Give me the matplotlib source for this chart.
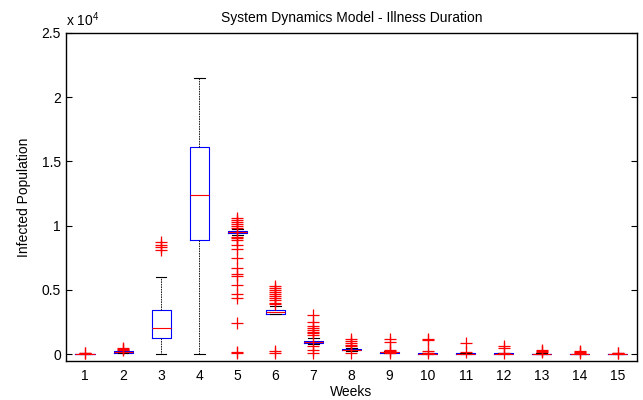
import matplotlib
matplotlib.use("Agg")
import matplotlib.pyplot as plt
from matplotlib.ticker import FuncFormatter

plt.rcParams["font.family"] = ["Liberation Sans", "DejaVu Sans"]
plt.rcParams["mathtext.fontset"] = "custom"
plt.rcParams["mathtext.rm"] = "Liberation Sans"

weeks = list(range(1, 16))
q1 = [0, 100, 1270, 8850, 9400, 3150, 850, 300, 80, 10, 10, 10, 10, 10, 5]
med = [10, 150, 2000, 12350, 9480, 3300, 950, 350, 120, 30, 20, 20, 20, 20, 15]
q3 = [20, 200, 3450, 16100, 9560, 3450, 1050, 420, 160, 50, 40, 40, 30, 30, 25]
whislo = [0, 50, 0, 0, 9250, 3100, 750, 200, 50, 0, 0, 0, 0, 0, 0]
whishi = [40, 300, 6000, 21500, 9700, 3700, 1250, 500, 200, 80, 60, 60, 60, 60, 50]
outliers = [
    [100, 60],
    [450, 400, 350],
    [8700, 8500, 8300, 8100],
    [],
    [10600, 10450, 10300, 10150, 9950, 9850, 9100, 9000, 8850, 8500, 8200,
     7500, 6700, 6200, 6050, 5400, 4700, 4400, 2400, 150, 50],
    [5300, 5150, 5000, 4850, 4700, 4550, 4400, 4200, 4000, 3900, 250, 100],
    [3050, 2500, 2200, 2050, 1900, 1750, 1600, 1450, 600, 350, 50],
    [1200, 1000, 850, 700, 600, 100],
    [1200, 950, 300, 250, 50],
    [1200, 1100, 200, 100],
    [850, 150],
    [600, 450, 100],
    [350, 250, 150],
    [250, 150, 100],
    [100, 50],
]

stats = []
for i in range(len(weeks)):
    stats.append({
        "med": med[i], "q1": q1[i], "q3": q3[i],
        "whislo": whislo[i], "whishi": whishi[i],
        "fliers": outliers[i], "label": str(weeks[i]),
    })

fig = plt.figure(figsize=(6.43, 4.0), dpi=100)
ax = fig.add_axes([0.1026, 0.0975, 0.888, 0.82])

ax.bxp(
    stats, positions=weeks, widths=0.5, capwidths=0.28,
    boxprops={"color": "blue", "linewidth": 0.8},
    medianprops={"color": "red", "linewidth": 0.8},
    whiskerprops={"color": "black", "linewidth": 0.6, "linestyle": (0, (2, 1))},
    capprops={"color": "black", "linewidth": 0.8},
    flierprops={"marker": "+", "markeredgecolor": "red", "markersize": 8,
                "markeredgewidth": 0.9, "linestyle": "none"},
)

ax.set_xlim(0.5, 15.5)
ax.set_ylim(-545, 25000)
ax.set_yticks([0, 5000, 10000, 15000, 20000, 25000])
ax.yaxis.set_major_formatter(FuncFormatter(lambda v, p: "%g" % (v / 1e4)))
ax.tick_params(axis="y", direction="in", length=4, right=True, labelsize=10, width=0.8)
ax.tick_params(axis="x", length=0, labelsize=10, pad=6)
for s in ax.spines.values():
    s.set_linewidth(1.0)

ax.text(0.0, 1.012, r"x 10$^{4}$", transform=ax.transAxes, fontsize=10,
        ha="left", va="bottom")
ax.set_title("System Dynamics Model - Illness Duration", fontsize=10, pad=8)
ax.set_xlabel("Weeks", fontsize=10, labelpad=1)
ax.set_ylabel("Infected Population", fontsize=10, labelpad=8)

fig.savefig("out.png", dpi=100)
